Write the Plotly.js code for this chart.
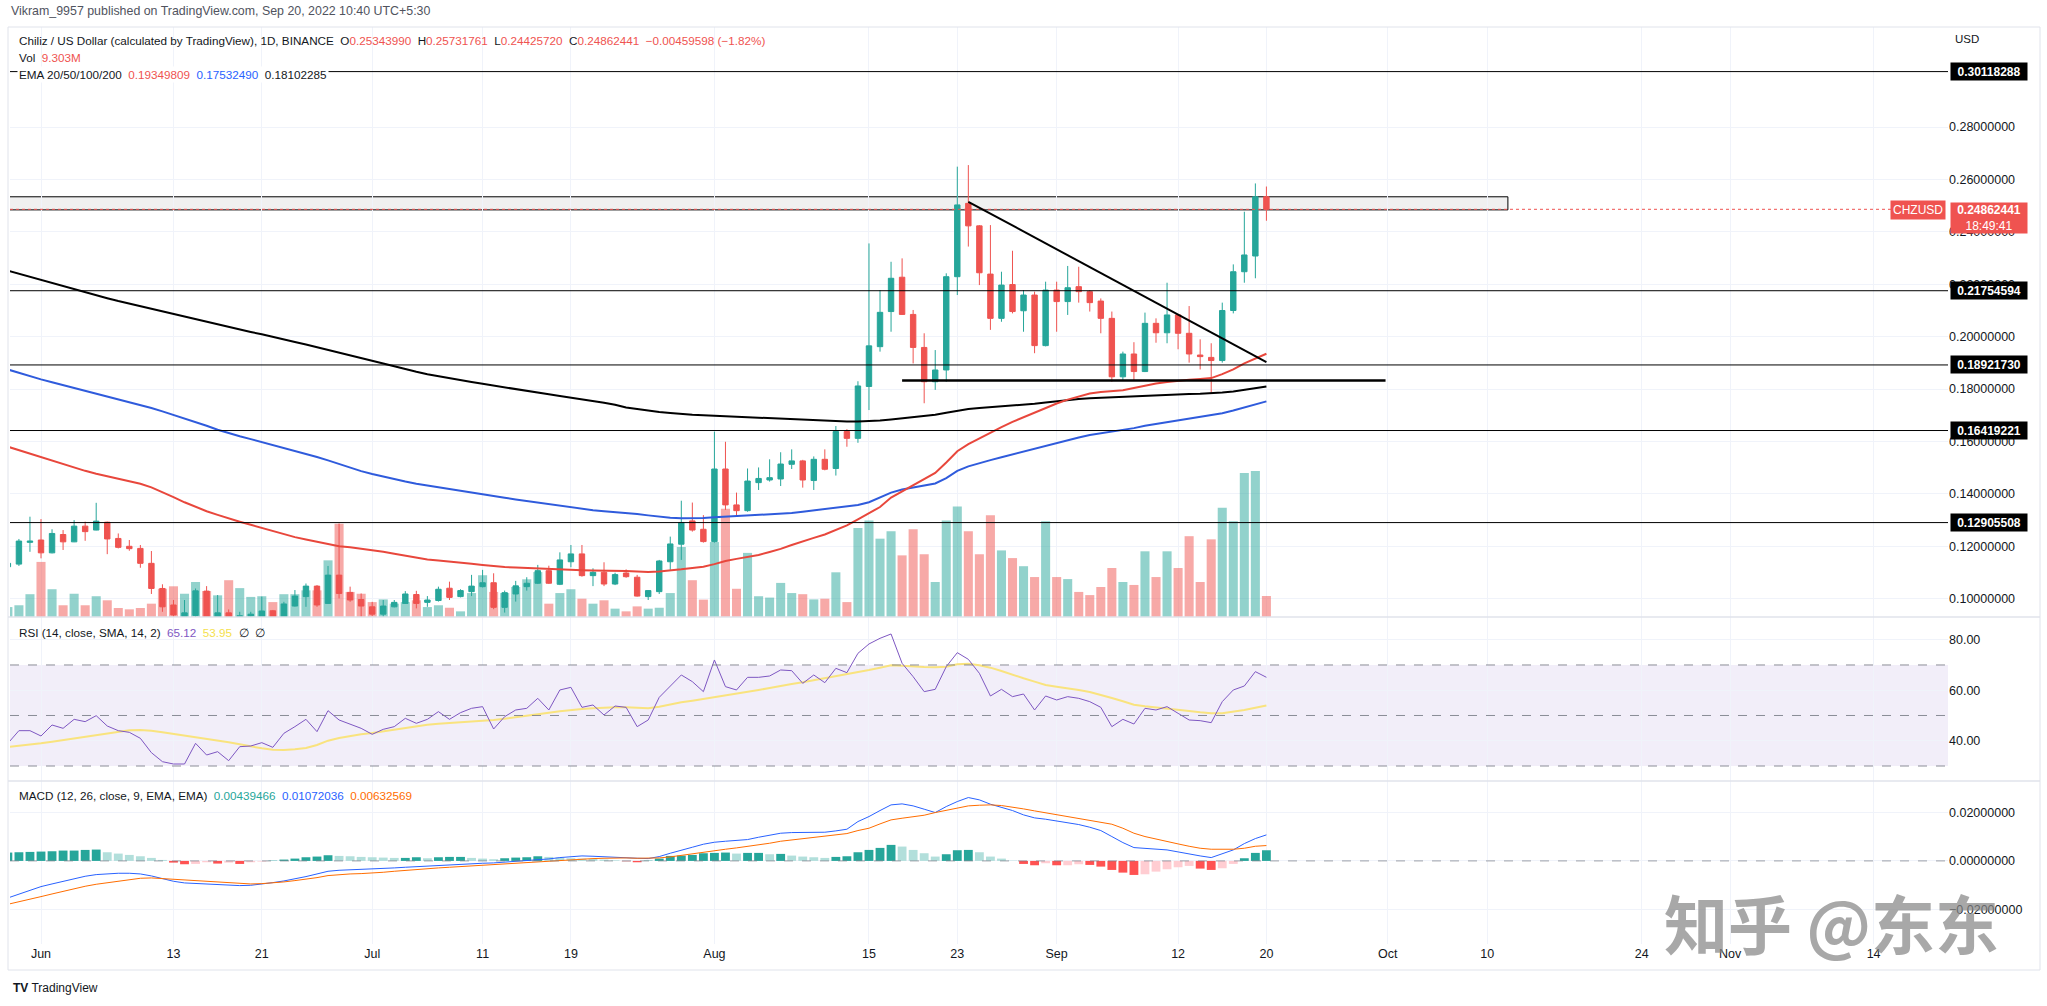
<!DOCTYPE html>
<html>
<head>
<meta charset="utf-8">
<script src="https://cdn.plot.ly/plotly-3.0.1.min.js"></script>
<style>
  html, body { margin: 0; padding: 0; background: #ffffff; }
  #chart { width: 2047px; height: 1006px; }
</style>
</head>
<body>
<div id="chart"></div>
<script>
// ---- CHZ/USD daily candles, 29 May 2022 .. 20 Sep 2022 ----
const firstDay = [2022, 4, 29]; // 29 May 2022 (month is 0-based)

const open = [
  0.1122,0.1132,0.1215,
  0.1224,0.1175,0.1245,0.1217,0.1277,0.1262,0.1292,0.1230,0.1200,0.1192,
  0.1135,0.1039,0.0976,0.0932,0.0936,0.1029,0.0920,0.0946,0.0920,0.0934,
  0.0929,0.0954,0.0928,0.0972,0.1008,0.1048,0.0982,0.1090,0.1024,0.0997,
  0.0969,0.0941,0.0969,0.0982,0.1016,0.0986,0.0993,0.1040,0.1008,0.1027,
  0.1046,0.1061,0.0967,0.1018,0.1046,0.1059,0.1107,0.1055,0.1141,0.1171,
  0.1088,0.1101,0.1056,0.1098,0.1082,0.1008,0.1027,0.1141,0.1208,0.1297,0.1265,
  0.1218,0.1495,0.1358,0.1336,0.1443,0.1453,0.1457,0.1513,0.1526,0.1451,
  0.1532,0.1497,0.1638,0.1612,0.1810,0.1962,0.2096,0.2227,0.2085,0.1959,
  0.1828,0.1873,0.2229,0.2509,0.2423,0.2239,0.2070,0.2199,0.2099,0.2159,0.1966,
  0.2178,0.2134,0.2191,0.2172,0.2136,0.2070,0.1847,0.1934,0.1867,0.2051,
  0.2015,0.2083,0.2013,0.1930,0.1921,0.1909,0.2100,0.2248,0.2308,0.25343990
];
const high = [
  0.1138,0.1228,0.1313,
  0.1304,0.1265,0.1262,0.1300,0.1294,0.1366,0.1294,0.1249,0.1224,0.1205,
  0.1182,0.1055,0.0995,0.0995,0.1039,0.1048,0.1014,0.0959,0.0950,0.0950,
  0.1008,0.0957,0.0988,0.1033,0.1058,0.1052,0.1125,0.1287,0.1046,0.1020,
  0.0988,0.0995,0.0995,0.1029,0.1030,0.1010,0.1046,0.1065,0.1036,0.1091,
  0.1110,0.1097,0.1031,0.1068,0.1082,0.1129,0.1126,0.1177,0.1205,0.1205,
  0.1116,0.1139,0.1099,0.1112,0.1091,0.1033,0.1148,0.1237,0.1374,0.1367,0.1319,
  0.1638,0.1599,0.1405,0.1497,0.1501,0.1532,0.1559,0.1570,0.1530,0.1543,
  0.1570,0.1659,0.1647,0.1830,0.2356,0.2178,0.2286,0.2299,0.2102,0.2013,
  0.1949,0.2242,0.2649,0.2655,0.2426,0.2426,0.2248,0.2328,0.2178,0.2172,0.2210,
  0.2210,0.2270,0.2267,0.2178,0.2146,0.2096,0.1943,0.1979,0.2092,0.2070,
  0.2206,0.2085,0.2117,0.1990,0.1975,0.2130,0.2276,0.2477,0.2585,0.25731761
];
const low = [
  0.1120,0.1125,0.1179,
  0.1154,0.1173,0.1186,0.1216,0.1221,0.1261,0.1170,0.1192,0.1183,0.1118,
  0.1018,0.0950,0.0931,0.0905,0.0900,0.0905,0.0910,0.0880,0.0885,0.0915,
  0.0915,0.0915,0.0920,0.0970,0.0969,0.0969,0.0980,0.1001,0.0988,0.0915,
  0.0934,0.0925,0.0967,0.0980,0.0963,0.0969,0.0989,0.0995,0.1005,0.1010,
  0.1043,0.0960,0.0947,0.0989,0.1031,0.1056,0.1056,0.1052,0.1120,0.1084,
  0.1048,0.1048,0.1052,0.1080,0.1008,0.0995,0.1018,0.1110,0.1148,0.1256,0.1214,
  0.1214,0.1339,0.1313,0.1332,0.1415,0.1447,0.1430,0.1495,0.1424,0.1415,
  0.1490,0.1470,0.1580,0.1595,0.1720,0.1943,0.2019,0.2083,0.1898,0.1746,
  0.1797,0.1828,0.2159,0.2344,0.2197,0.2026,0.2057,0.2089,0.2019,0.1937,0.1963,
  0.2019,0.2083,0.2130,0.2096,0.2013,0.1828,0.1835,0.1835,0.1865,0.1977,
  0.1975,0.1952,0.1901,0.1875,0.1784,0.1901,0.2089,0.2206,0.2223,0.24425720
];
const close = [
  0.1135,0.1220,0.1220,
  0.1175,0.1249,0.1217,0.1277,0.1256,0.1296,0.1228,0.1196,0.1191,0.1135,
  0.1039,0.0969,0.0938,0.0946,0.1030,0.0920,0.0946,0.0920,0.0935,0.0941,
  0.0953,0.0928,0.0980,0.1010,0.1048,0.0976,0.1090,0.1020,0.0995,0.0972,
  0.0941,0.0972,0.0986,0.1018,0.0982,0.0995,0.1036,0.1005,0.1031,0.1048,
  0.1061,0.0967,0.1023,0.1049,0.1059,0.1107,0.1059,0.1148,0.1171,0.1088,
  0.1101,0.1056,0.1092,0.1084,0.1010,0.1031,0.1144,0.1209,0.1291,0.1262,0.1218,
  0.1495,0.1358,0.1336,0.1449,0.1459,0.1462,0.1514,0.1526,0.1453,0.1532,
  0.1494,0.1638,0.1612,0.1812,0.1965,0.2093,0.2223,0.2085,0.1959,0.1828,
  0.1873,0.2229,0.2503,0.2423,0.2244,0.2070,0.2197,0.2096,0.2159,0.1966,0.2178,
  0.2134,0.2187,0.2172,0.2130,0.2070,0.1847,0.1934,0.1867,0.2051,0.2015,
  0.2083,0.2013,0.1934,0.1924,0.1909,0.2100,0.2248,0.2312,0.2534,0.24862441
];
// volume, millions
const volume = [
  4.4,5.2,10.1,
  24.4,12.3,5.2,10.3,5.2,9.2,7.4,4.0,3.4,4.0,
  5.9,12.5,13.6,10.3,15.5,11.5,9.6,16.3,12.8,8.9,
  9.2,6.6,10.1,10.1,11.8,11.8,25.1,41.3,11.1,10.3,
  6.6,7.8,5.9,6.6,7.4,4.4,5.2,4.1,2.5,10.6,
  18.5,11.1,10.6,13.3,16.7,19.9,5.9,10.6,12.3,8.1,
  5.9,7.4,3.7,2.5,4.7,3.7,4.1,10.6,31.0,16.3,7.7,
  33.2,48.0,12.5,28.4,9.2,8.6,15.1,10.6,10.1,7.8,
  8.1,19.8,6.6,39.4,42.8,34.7,38.0,27.3,38.9,27.8,
  15.5,42.8,49.0,38.0,27.8,45.1,29.5,26.1,22.5,17.7,42.4,
  17.7,16.8,11.1,9.7,13.3,21.7,15.5,14.2,29.1,17.7,
  29.1,21.7,35.8,15.5,34.4,48.4,42.4,63.8,64.7,9.303
];
// moving averages on price
const emaRed = [
  0.1580,0.1567,0.1553,
  0.1540,0.1526,0.1513,0.1500,0.1488,0.1477,0.1468,0.1459,0.1450,0.1439,
  0.1425,0.1408,0.1388,0.1368,0.1350,0.1334,0.1320,0.1306,0.1294,0.1282,
  0.1270,0.1259,0.1247,0.1235,0.1226,0.1217,0.1208,0.1200,0.1196,0.1191,
  0.1185,0.1179,0.1172,0.1165,0.1158,0.1150,0.1146,0.1141,0.1137,0.1133,
  0.1129,0.1124,0.1121,0.1119,0.1117,0.1115,0.1113,0.1111,0.1110,0.1109,
  0.1108,0.1108,0.1107,0.1106,0.1104,0.1102,0.1104,0.1107,0.1112,0.1117,
  0.1122,0.1132,0.1144,0.1152,0.1160,0.1167,0.1178,0.1190,0.1205,0.1220,
  0.1232,0.1245,0.1262,0.1280,0.1303,0.1326,0.1350,0.1386,0.1409,0.1431,
  0.1455,0.1480,0.1520,0.1563,0.1590,0.1612,0.1635,0.1655,0.1675,0.1693,
  0.1710,0.1728,0.1745,0.1760,0.1772,0.1783,0.1789,0.1793,0.1796,0.1804,
  0.1813,0.1821,0.1827,0.1832,0.1836,0.1839,0.1842,0.1857,0.1875,0.1898,
  0.1917,0.1935
];
const emaBlue = [
  0.1875,0.1862,0.1849,
  0.1837,0.1826,0.1815,0.1804,0.1794,0.1783,0.1773,0.1762,0.1752,0.1741,
  0.1728,0.1715,0.1702,0.1688,0.1674,0.1660,0.1645,0.1632,0.1620,0.1609,
  0.1598,0.1587,0.1576,0.1565,0.1553,0.1541,0.1528,0.1514,0.1499,0.1487,
  0.1476,0.1466,0.1456,0.1447,0.1439,0.1432,0.1425,0.1418,0.1412,0.1405,
  0.1398,0.1391,0.1385,0.1379,0.1373,0.1367,0.1362,0.1357,0.1350,0.1343,
  0.1338,0.1334,0.1331,0.1328,0.1323,0.1318,0.1313,0.1309,0.1307,0.1307,
  0.1308,0.1311,0.1313,0.1315,0.1317,0.1319,0.1321,0.1324,0.1327,0.1332,
  0.1337,0.1343,0.1348,0.1353,0.1358,0.1368,0.1385,0.1405,0.1417,0.1425,
  0.1432,0.1440,0.1460,0.1488,0.1505,0.1518,0.1529,0.1540,0.1551,0.1561,
  0.1572,0.1583,0.1593,0.1604,0.1615,0.1625,0.1631,0.1637,0.1643,0.1651,
  0.1660,0.1667,0.1674,0.1681,0.1688,0.1694,0.1700,0.1708,0.1718,0.1730,
  0.1742,0.1753
];
const emaBlack = [
  0.2252,0.2240,0.2228,
  0.2216,0.2204,0.2192,0.2181,0.2169,0.2158,0.2147,0.2136,0.2126,0.2116,
  0.2106,0.2096,0.2086,0.2076,0.2066,0.2056,0.2046,0.2036,0.2027,0.2018,
  0.2009,0.2000,0.1990,0.1980,0.1970,0.1960,0.1950,0.1940,0.1930,0.1920,
  0.1910,0.1898,0.1887,0.1876,0.1866,0.1857,0.1849,0.1841,0.1834,0.1827,
  0.1820,0.1813,0.1806,0.1799,0.1792,0.1786,0.1780,0.1774,0.1768,0.1762,
  0.1756,0.1748,0.1740,0.1730,0.1724,0.1718,0.1713,0.1709,0.1705,0.1702,
  0.1700,0.1698,0.1696,0.1694,0.1692,0.1690,0.1688,0.1686,0.1684,0.1682,
  0.1680,0.1678,0.1677,0.1676,0.1676,0.1677,0.1680,0.1684,0.1688,0.1692,
  0.1696,0.1702,0.1710,0.1718,0.1724,0.1728,0.1731,0.1734,0.1737,0.1740,
  0.1744,0.1749,0.1754,0.1758,0.1762,0.1765,0.1767,0.1769,0.1771,0.1773,
  0.1775,0.1777,0.1779,0.1780,0.1781,0.1782,0.1784,0.1787,0.1791,0.1797,
  0.1803,0.1810
];
// RSI (14) and its 14-day SMA
const rsi = [
  38.98,43.99,43.99,
  41.88,46.24,44.92,48.48,47.56,49.93,45.84,43.99,43.33,40.96,
  35.28,31.71,30.79,30.79,38.98,34.35,35.67,32.11,37.65,37.92,
  39.24,37.39,42.94,45.58,48.48,43.60,51.91,48.22,46.63,44.92,
  42.54,44.52,45.58,48.88,46.90,48.48,51.52,48.48,51.12,52.84,
  53.50,44.65,49.54,52.18,52.84,56.80,52.18,60.10,61.15,53.23,
  54.16,50.20,53.76,53.23,45.58,48.22,57.19,61.68,66.04,63.40,
  59.44,71.98,61.42,60.10,65.11,65.11,65.64,68.02,67.75,62.74,
  66.04,63.00,68.68,66.96,74.62,78.32,80.56,82.28,70.66,65.38,
  59.44,60.36,69.34,74.88,72.24,66.70,57.72,60.36,57.46,58.51,
  52.18,57.72,56.14,57.46,56.80,55.48,53.23,45.58,48.48,46.63,
  52.84,52.18,53.50,50.86,48.22,47.95,47.16,55.48,60.10,61.68,
  67.36,65.12
];
const rsiMa = [
  37.52,37.92,38.45,
  38.98,39.64,40.30,40.96,41.75,42.41,43.07,43.60,44.12,44.26,
  43.99,43.33,42.67,42.14,41.62,40.96,40.16,39.37,38.58,37.65,
  36.99,36.47,36.34,36.60,37.13,38.32,40.03,41.09,41.88,42.54,
  43.07,43.73,44.39,45.05,45.84,46.37,46.76,47.03,47.42,47.69,
  47.95,48.22,48.74,49.40,50.06,50.59,51.12,51.65,52.18,52.57,
  52.84,53.10,53.23,53.23,52.97,52.84,53.50,54.42,55.21,55.87,
  56.53,57.19,57.85,58.51,59.17,60.10,60.89,61.81,62.47,63.13,
  63.93,64.59,65.38,66.30,67.23,68.02,68.94,69.87,69.73,69.34,
  69.21,69.07,69.34,70.26,70.53,69.87,68.94,67.62,66.04,64.72,
  63.40,62.08,61.42,60.89,60.10,59.31,58.25,56.93,55.61,54.29,
  53.63,53.23,52.84,52.31,51.78,51.25,50.86,50.86,51.38,52.18,
  53.10,53.95
];
// MACD (12, 26, 9)
const macd = [
  -0.01524,-0.01373,-0.01209,
  -0.01057,-0.00948,-0.00838,-0.00728,-0.00632,-0.00563,-0.00522,-0.00508,-0.00508,-0.00536,
  -0.00618,-0.00728,-0.00838,-0.00906,-0.00934,-0.00948,-0.00975,-0.01003,-0.01016,-0.01003,
  -0.00961,-0.00893,-0.00824,-0.00742,-0.00645,-0.00536,-0.00426,-0.00385,-0.00371,-0.00357,
  -0.00343,-0.00316,-0.00288,-0.00261,-0.00233,-0.00220,-0.00192,-0.00179,-0.00151,-0.00124,
  -0.00096,-0.00082,-0.00055,-0.00027,0.00014,0.00041,0.00082,0.00137,0.00179,0.00206,
  0.00192,0.00179,0.00165,0.00137,0.00110,0.00096,0.00179,0.00316,0.00426,0.00563,
  0.00687,0.00769,0.00810,0.00838,0.00879,0.00975,0.01057,0.01140,0.01167,0.01181,
  0.01181,0.01181,0.01236,0.01305,0.01620,0.01826,0.02074,0.02307,0.02348,0.02266,
  0.02129,0.01991,0.02238,0.02444,0.02609,0.02513,0.02335,0.02197,0.02074,0.01895,
  0.01772,0.01717,0.01648,0.01579,0.01497,0.01387,0.01250,0.01003,0.00755,0.00549,
  0.00508,0.00481,0.00453,0.00371,0.00275,0.00206,0.00137,0.00288,0.00453,0.00714,
  0.00920,0.01072036
];
const signal = [
  -0.01785,-0.01689,-0.01579,
  -0.01469,-0.01360,-0.01250,-0.01140,-0.01044,-0.00961,-0.00893,-0.00838,-0.00783,-0.00714,
  -0.00700,-0.00728,-0.00755,-0.00783,-0.00810,-0.00838,-0.00865,-0.00893,-0.00920,-0.00948,
  -0.00934,-0.00906,-0.00865,-0.00810,-0.00755,-0.00687,-0.00604,-0.00563,-0.00536,-0.00522,
  -0.00508,-0.00467,-0.00426,-0.00385,-0.00343,-0.00316,-0.00288,-0.00261,-0.00233,-0.00206,
  -0.00179,-0.00137,-0.00110,-0.00082,-0.00055,-0.00027,0.00000,0.00027,0.00055,0.00082,
  0.00096,0.00110,0.00124,0.00124,0.00110,0.00110,0.00124,0.00165,0.00233,0.00288,
  0.00357,0.00426,0.00481,0.00536,0.00591,0.00659,0.00728,0.00810,0.00865,0.00920,
  0.00975,0.01030,0.01071,0.01126,0.01250,0.01346,0.01524,0.01689,0.01758,0.01826,
  0.01881,0.01991,0.02074,0.02170,0.02266,0.02293,0.02307,0.02280,0.02225,0.02142,
  0.02060,0.01978,0.01909,0.01826,0.01730,0.01662,0.01593,0.01511,0.01346,0.01140,
  0.01003,0.00893,0.00783,0.00700,0.00604,0.00522,0.00481,0.00467,0.00481,0.00522,
  0.00604,0.00632569
];
const histogram = [
  0.00344,0.00357,0.00371,
  0.00385,0.00398,0.00426,0.00426,0.00453,0.00467,0.00357,0.00302,0.00247,0.00192,
  0.00124,0.00041,-0.00069,-0.00137,-0.00124,-0.00055,-0.00110,-0.00069,-0.00124,-0.00055,
  -0.00027,0.00014,0.00055,0.00096,0.00151,0.00179,0.00234,0.00206,0.00192,0.00165,
  0.00151,0.00137,0.00124,0.00124,0.00151,0.00110,0.00151,0.00165,0.00165,0.00124,
  0.00096,0.00069,0.00110,0.00137,0.00151,0.00192,0.00165,0.00137,0.00110,0.00096,
  0.00082,0.00055,0.00027,-0.00014,-0.00055,0.00014,0.00096,0.00206,0.00220,0.00247,
  0.00316,0.00330,0.00344,0.00302,0.00330,0.00330,0.00275,0.00289,0.00220,0.00179,
  0.00151,0.00124,0.00165,0.00192,0.00357,0.00453,0.00536,0.00660,0.00591,0.00453,
  0.00316,0.00179,0.00275,0.00440,0.00453,0.00357,0.00179,0.00096,0.00014,-0.00124,
  -0.00179,-0.00096,-0.00179,-0.00179,-0.00137,-0.00165,-0.00234,-0.00371,-0.00481,-0.00577,
  -0.00550,-0.00440,-0.00344,-0.00261,-0.00206,-0.00316,-0.00371,-0.00302,-0.00124,0.00110,
  0.00330,0.00439466
];

// drawn levels and lines
const levels = [0.30118288, 0.21754594, 0.18921730, 0.16419221, 0.12905508];
const levelLabels = ['0.30118288', '0.21754594', '0.18921730', '0.16419221', '0.12905508'];
const zoneBox = {from: '2022-05-29', to: '2022-10-11 21:00', bottom: 0.2484, top: 0.2534};
const fallingLine = {x: ['2022-08-24', '2022-09-20'], y: [0.2515, 0.1903]};
const supportLine = {x: ['2022-08-18', '2022-09-30 19:00'], y: [0.1833, 0.1833]};
const lastPrice = 0.24862441;

// axis ticks
const timeTicks = ['2022-06-01','2022-06-13','2022-06-21','2022-07-01','2022-07-11','2022-07-19',
  '2022-08-01','2022-08-15','2022-08-23','2022-09-01','2022-09-12','2022-09-20',
  '2022-10-01','2022-10-10','2022-10-24','2022-11-01','2022-11-14'];
const timeLabels = ['Jun','13','21','Jul','11','19','Aug','15','23','Sep','12','20','Oct','10','24','Nov','14'];
const priceTicks = [0.10,0.12,0.14,0.16,0.18,0.20,0.22,0.24,0.26,0.28];
const priceLabels = ['0.10000000','0.12000000','0.14000000','0.16000000','0.18000000',
  '0.20000000','0.22000000','0.24000000','0.26000000','0.28000000'];
const rsiTicks = [40, 60, 80];
const rsiLabels = ['40.00', '60.00', '80.00'];
const macdTicks = [-0.02, 0, 0.02];
const macdLabels = ['\u22120.02000000', '0.00000000', '0.02000000'];

// ---- layout geometry (pixels) ----
const PL = 10, PR = 1948, PT = 27, PB = 944;
const MAIN_BOTTOM = 617, RSI_BOTTOM = 781;
const px = v => (v - PL) / (PR - PL);
const py = v => (PB - v) / (PB - PT);

const dates = open.map((_, i) => {
  const d = new Date(Date.UTC(firstDay[0], firstDay[1], firstDay[2] + i));
  return d.toISOString().slice(0, 10);
});

const UP = '#26a69a', DOWN = '#ef5350';
const volColors = close.map((c, i) => c >= open[i] ? 'rgba(38,166,154,0.5)' : 'rgba(239,83,80,0.5)');
const histColors = histogram.map((h, i) => {
  const prev = i > 0 ? histogram[i - 1] : h;
  if (h >= 0) return h >= prev ? '#26a69a' : '#b2dfdb';
  return h < prev ? '#ff5252' : '#ffcdd2';
});
const DAY = 86400000;

const traces = [
  {type: 'bar', x: dates, y: volume, xaxis: 'x', yaxis: 'y', width: DAY * 0.82,
   marker: {color: volColors, line: {width: 0}}, hoverinfo: 'skip'},
  {type: 'candlestick', x: dates, open: open, high: high, low: low, close: close,
   xaxis: 'x', yaxis: 'y2', whiskerwidth: 0,
   increasing: {line: {color: UP, width: 1}, fillcolor: UP},
   decreasing: {line: {color: DOWN, width: 1}, fillcolor: DOWN}, hoverinfo: 'skip'},
  {type: 'scatter', mode: 'lines', x: dates, y: emaBlack, xaxis: 'x', yaxis: 'y2',
   line: {color: '#000000', width: 2}, hoverinfo: 'skip'},
  {type: 'scatter', mode: 'lines', x: dates, y: emaBlue, xaxis: 'x', yaxis: 'y2',
   line: {color: '#2f5bdc', width: 2}, hoverinfo: 'skip'},
  {type: 'scatter', mode: 'lines', x: dates, y: emaRed, xaxis: 'x', yaxis: 'y2',
   line: {color: '#e8473c', width: 2}, hoverinfo: 'skip'},
  {type: 'scatter', mode: 'lines', x: dates, y: rsiMa, xaxis: 'x', yaxis: 'y3',
   line: {color: '#f9e37e', width: 2}, hoverinfo: 'skip'},
  {type: 'scatter', mode: 'lines', x: dates, y: rsi, xaxis: 'x', yaxis: 'y3',
   line: {color: '#7e57c2', width: 1}, hoverinfo: 'skip'},
  {type: 'bar', x: dates, y: histogram, xaxis: 'x', yaxis: 'y4', width: DAY * 0.8,
   marker: {color: histColors, line: {width: 0}}, hoverinfo: 'skip'},
  {type: 'scatter', mode: 'lines', x: dates, y: macd, xaxis: 'x', yaxis: 'y4',
   line: {color: '#2962ff', width: 1}, hoverinfo: 'skip'},
  {type: 'scatter', mode: 'lines', x: dates, y: signal, xaxis: 'x', yaxis: 'y4',
   line: {color: '#ff6d00', width: 1}, hoverinfo: 'skip'}
];

const FONT = 'Liberation Sans, Arial, sans-serif';
const GRID = '#f0f3fa';
const TXT = '#131722';

const shapes = [];
// RSI band and guide lines
shapes.push({type: 'rect', xref: 'paper', yref: 'y3', x0: 0, x1: 1, y0: 30, y1: 70,
  fillcolor: 'rgba(126,87,194,0.1)', line: {width: 0}, layer: 'below'});
[70, 50, 30].forEach(v => shapes.push({type: 'line', xref: 'paper', yref: 'y3', x0: 0, x1: 1,
  y0: v, y1: v, line: {color: 'rgba(120,123,134,0.85)', width: 1, dash: 'dash'}}));
// MACD zero line
shapes.push({type: 'line', xref: 'paper', yref: 'y4', x0: 0, x1: 1, y0: 0, y1: 0,
  line: {color: 'rgba(120,123,134,0.7)', width: 1, dash: 'dash'}});
// zone box
shapes.push({type: 'rect', xref: 'x', yref: 'y2', x0: zoneBox.from, x1: zoneBox.to,
  y0: zoneBox.bottom, y1: zoneBox.top, fillcolor: 'rgba(0,0,0,0.06)',
  line: {color: '#000000', width: 1}, layer: 'below'});
// last price line
shapes.push({type: 'line', xref: 'paper', yref: 'y2', x0: 0, x1: 1, y0: lastPrice, y1: lastPrice,
  line: {color: '#ef5350', width: 1, dash: 'dot'}});
// horizontal levels
levels.forEach(v => shapes.push({type: 'line', xref: 'paper', yref: 'y2', x0: 0, x1: 1,
  y0: v, y1: v, line: {color: '#000000', width: 1}}));
// trend lines
shapes.push({type: 'line', xref: 'x', yref: 'y2', x0: fallingLine.x[0], x1: fallingLine.x[1],
  y0: fallingLine.y[0], y1: fallingLine.y[1], line: {color: '#000000', width: 2}});
shapes.push({type: 'line', xref: 'x', yref: 'y2', x0: supportLine.x[0], x1: supportLine.x[1],
  y0: supportLine.y[0], y1: supportLine.y[1], line: {color: '#000000', width: 2.5}});
// pane separators and frame
[MAIN_BOTTOM, RSI_BOTTOM].forEach(v => shapes.push({type: 'line', xref: 'paper', yref: 'paper',
  x0: px(8), x1: px(2040), y0: py(v), y1: py(v), line: {color: '#e0e3eb', width: 1.5}}));
shapes.push({type: 'rect', xref: 'paper', yref: 'paper', x0: px(8), x1: px(2040), y0: py(970), y1: py(PT),
  line: {color: '#e0e3eb', width: 1}, fillcolor: 'rgba(0,0,0,0)'});

const red = s => '<span style="color:#ef5350">' + s + '</span>';
const LEG = 11.7;
const annotations = [
  {xref: 'paper', yref: 'paper', x: px(9), y: py(11), xanchor: 'left', yanchor: 'middle', showarrow: false,
   text: 'Vikram_9957 published on TradingView.com, Sep 20, 2022 10:40 UTC+5:30',
   font: {family: FONT, size: 12.4, color: '#50535e'}},
  {xref: 'paper', yref: 'paper', x: px(17), y: py(40.5), xanchor: 'left', yanchor: 'middle', showarrow: false,
   text: 'Chiliz / US Dollar (calculated by TradingView), 1D, BINANCE  O' + red('0.25343990') +
     '  H' + red('0.25731761') + '  L' + red('0.24425720') + '  C' + red('0.24862441') +
     '  ' + red('\u22120.00459598 (\u22121.82%)'),
   font: {family: FONT, size: LEG, color: TXT}},
  {xref: 'paper', yref: 'paper', x: px(17), y: py(57.5), xanchor: 'left', yanchor: 'middle', showarrow: false,
   text: 'Vol  ' + red('9.303M'), font: {family: FONT, size: LEG, color: TXT}},
  {xref: 'paper', yref: 'paper', x: px(17), y: py(74.5), xanchor: 'left', yanchor: 'middle', showarrow: false,
   bgcolor: '#ffffff', borderpad: 1,
   text: 'EMA 20/50/100/200  ' + red('0.19349809') + '  <span style="color:#2962ff">0.17532490</span>  0.18102285',
   font: {family: FONT, size: LEG, color: TXT}},
  {xref: 'paper', yref: 'paper', x: px(17), y: py(632), xanchor: 'left', yanchor: 'middle', showarrow: false,
   text: 'RSI (14, close, SMA, 14, 2)  <span style="color:#7e57c2">65.12</span>  <span style="color:#f5df4d">53.95</span>  \u2205  \u2205',
   font: {family: FONT, size: LEG, color: TXT}},
  {xref: 'paper', yref: 'paper', x: px(17), y: py(795.5), xanchor: 'left', yanchor: 'middle', showarrow: false,
   text: 'MACD (12, 26, close, 9, EMA, EMA)  <span style="color:#26a69a">0.00439466</span>  <span style="color:#2962ff">0.01072036</span>  <span style="color:#ff6d00">0.00632569</span>',
   font: {family: FONT, size: LEG, color: TXT}},
  {xref: 'paper', yref: 'paper', x: px(1953), y: py(39), xanchor: 'left', yanchor: 'middle', showarrow: false,
   text: 'USD', font: {family: FONT, size: 11.5, color: TXT}},
  {xref: 'paper', yref: 'paper', x: px(1946), y: py(209.5), xanchor: 'right', yanchor: 'middle', showarrow: false,
   text: 'CHZUSD', bgcolor: '#ef5350', borderpad: 2, font: {family: FONT, size: 12, color: '#ffffff'}},
  {xref: 'paper', yref: 'paper', x: px(1950), y: py(201.5), xanchor: 'left', yanchor: 'top', showarrow: false,
   text: '<b>0.24862441</b><br>18:49:41', bgcolor: '#ef5350', borderpad: 1, width: 74, height: 28, align: 'center',
   font: {family: FONT, size: 12, color: '#ffffff'}},
  {xref: 'paper', yref: 'paper', x: px(1831), y: py(921), xanchor: 'center', yanchor: 'middle', showarrow: false,
   text: '知乎 @东东',
   font: {family: 'Noto Sans CJK SC, sans-serif', size: 64, weight: 700, color: 'rgba(135,135,135,0.72)'}},
  {xref: 'paper', yref: 'paper', x: px(11), y: py(988), xanchor: 'left', yanchor: 'middle', showarrow: false,
   text: '<b>TV</b> TradingView', font: {family: FONT, size: 12, color: TXT}}
];
levels.forEach((v, i) => annotations.push({xref: 'paper', yref: 'y2', x: px(1950), y: v,
  xanchor: 'left', yanchor: 'middle', showarrow: false, text: '<b>' + levelLabels[i] + '</b>',
  bgcolor: '#000000', borderpad: 1, width: 74, height: 15,
  font: {family: FONT, size: 12, color: '#ffffff'}}));

const layout = {
  width: 2047, height: 1006,
  margin: {l: PL, r: 2047 - PR, t: PT, b: 1006 - PB, pad: 0},
  paper_bgcolor: '#ffffff', plot_bgcolor: 'rgba(0,0,0,0)',
  showlegend: false, hovermode: false, dragmode: false, barmode: 'overlay',
  font: {family: FONT, size: 12, color: TXT},
  xaxis: {type: 'date', range: ['2022-05-29 04:36', '2022-11-20 17:46'], domain: [0, 1], anchor: 'y4',
    tickvals: timeTicks, ticktext: timeLabels, ticks: '', showgrid: true, gridcolor: GRID,
    zeroline: false, showline: false, tickfont: {family: FONT, size: 12.5, color: TXT},
    rangeslider: {visible: false}, fixedrange: true},
  yaxis: {domain: [py(MAIN_BOTTOM), 1], range: [0, 590 * 0.443], visible: false, fixedrange: true},
  yaxis2: {overlaying: 'y', side: 'right', range: [0.093015, 0.318206],
    tickvals: priceTicks, ticktext: priceLabels, ticks: '', showgrid: true, gridcolor: GRID,
    zeroline: false, showline: false, tickfont: {family: FONT, size: 12.5, color: TXT}, fixedrange: true},
  yaxis3: {domain: [py(RSI_BOTTOM), py(MAIN_BOTTOM)], side: 'right', range: [24.06, 89.0],
    tickvals: rsiTicks, ticktext: rsiLabels, ticks: '', showgrid: true, gridcolor: GRID,
    zeroline: false, showline: false, tickfont: {family: FONT, size: 12.5, color: TXT}, fixedrange: true},
  yaxis4: {domain: [0, py(RSI_BOTTOM)], side: 'right', range: [-0.0342, 0.0329],
    tickvals: macdTicks, ticktext: macdLabels, ticks: '', showgrid: true, gridcolor: GRID,
    zeroline: false, showline: false, tickfont: {family: FONT, size: 12.5, color: TXT}, fixedrange: true},
  shapes: shapes,
  annotations: annotations
};

Plotly.newPlot('chart', traces, layout, {staticPlot: true, displayModeBar: false});
</script>
</body>
</html>
